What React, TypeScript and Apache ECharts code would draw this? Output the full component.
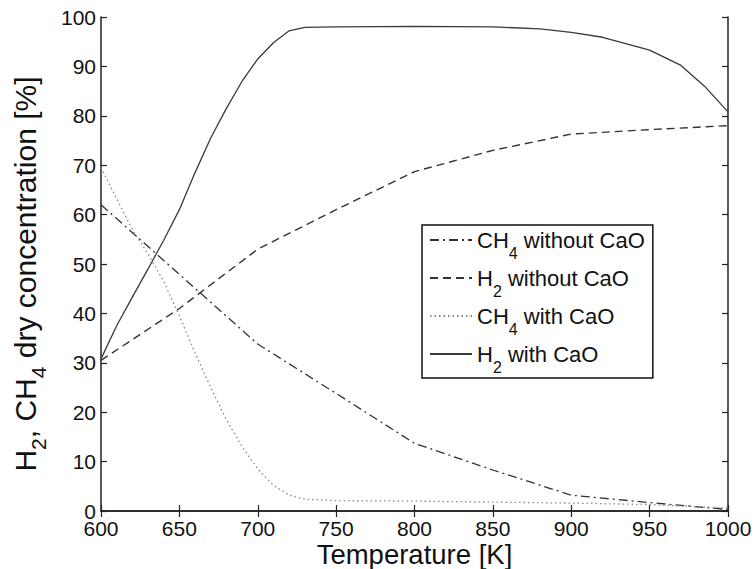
import React, { useEffect, useRef } from "react";
import * as echarts from "echarts";

const FONT = "Liberation Sans";

const xTicks = { min: 600, max: 1000, interval: 50 };
const yTicks = { min: 0, max: 100, interval: 10 };

const ch4WithoutT = [600, 650, 700, 750, 800, 850, 900, 950, 1000];
const ch4WithoutV = [62, 47.9, 33.8, 23.8, 13.7, 8.3, 3.2, 1.7, 0.3];

const h2WithoutT = [600, 650, 700, 750, 800, 850, 900, 950, 1000];
const h2WithoutV = [30.5, 41, 53, 61, 68.7, 73, 76.3, 77.2, 78];

const ch4WithT = [600, 610, 620, 630, 640, 650, 660, 670, 680, 690, 700, 710, 720, 730, 750, 800, 850, 900, 950, 1000];
const ch4WithV = [69.5, 63.2, 57, 52, 46.5, 39.5, 32, 25, 18.5, 13, 8.5, 5.2, 3.2, 2.4, 2.1, 2.0, 1.8, 1.6, 1.3, 0.6];

const h2WithT = [600, 610, 620, 630, 640, 650, 660, 670, 680, 690, 700, 710, 720, 730, 750, 800, 850, 880, 900, 920, 950, 970, 985, 1000];
const h2WithV = [30.8, 37.5, 43.3, 49, 54.8, 61, 68.5, 75.5, 81.5, 87, 91.5, 94.8, 97.2, 97.9, 98, 98.1, 98, 97.6, 96.9, 95.9, 93.3, 90.2, 86, 80.8];

const seriesNames = ["CH4 without CaO", "H2 without CaO", "CH4 with CaO", "H2 with CaO"];
const legendRich: Record<string, string> = {
  "CH4 without CaO": "{a|CH}{s|4}{a| without CaO}",
  "H2 without CaO": "{a|H}{s|2}{a| without CaO}",
  "CH4 with CaO": "{a|CH}{s|4}{a| with CaO}",
  "H2 with CaO": "{a|H}{s|2}{a| with CaO}",
};
const yTitle = "{a|H}{s|2}{a|, CH}{s|4}{a| dry concentration [%]}";
const xTitle = "Temperature [K]";

const zip = (t: number[], v: number[]) => t.map((x, i) => [x, v[i]]);

export default function App() {
  const ref = useRef<HTMLDivElement>(null);
  useEffect(() => {
    if (!ref.current) return;
    const chart = echarts.init(ref.current, undefined, { renderer: "svg", width: 755, height: 569 });
    const axisLine = { show: true, lineStyle: { color: "#222", width: 1.5 } };
    const tick = { show: true, inside: true, length: 6, lineStyle: { color: "#222", width: 1.2 } };
    const richMain = (size: number, subSize: number, pad: number) => ({
      a: { fontSize: size, fontFamily: FONT, color: "#111", lineHeight: size, verticalAlign: "top" },
      s: { fontSize: subSize, fontFamily: FONT, color: "#111", lineHeight: subSize, verticalAlign: "top", padding: [pad, 0, 0, 0] },
    });
    const mkSeries = (name: string, data: number[][], type: any, color: string, width: number) => ({
      name,
      type: "line",
      data,
      symbol: "none",
      showSymbol: false,
      lineStyle: { color, width, type },
      itemStyle: { color },
      z: 2,
    });
    chart.setOption({
      animation: false,
      backgroundColor: "#fff",
      grid: { left: 101, top: 17, right: 27, bottom: 58, containLabel: false, outerBoundsMode: "none" },
      xAxis: [
        {
          type: "value",
          ...xTicks,
          position: "bottom",
          axisLine,
          axisTick: tick,
          splitLine: { show: false },
          axisLabel: { fontSize: 21, lineHeight: 18, fontFamily: FONT, color: "#111", margin: 8, formatter: (v: number) => String(v) },
          name: xTitle,
          nameLocation: "middle",
          nameGap: 30,
          nameMoveOverlap: false,
          nameTextStyle: { fontSize: 27.5, lineHeight: 26, fontFamily: FONT, color: "#111" },
        },
        {
          type: "value",
          ...xTicks,
          position: "top",
          axisLine,
          axisTick: tick,
          splitLine: { show: false },
          axisLabel: { show: false },
        },
      ],
      yAxis: [
        {
          type: "value",
          ...yTicks,
          position: "left",
          axisLine,
          axisTick: tick,
          splitLine: { show: false },
          axisLabel: { fontSize: 21, lineHeight: 18, fontFamily: FONT, color: "#111", margin: 5 },
          name: yTitle,
          nameLocation: "middle",
          nameGap: 61,
          nameMoveOverlap: false,
          nameRotate: 90,
          nameTextStyle: { rich: richMain(30, 21, 18), padding: [0, 20, 0, 0] },
        },
        {
          type: "value",
          ...yTicks,
          position: "right",
          axisLine,
          axisTick: tick,
          splitLine: { show: false },
          axisLabel: { show: false },
        },
      ],
      legend: {
        data: seriesNames,
        orient: "vertical",
        left: 422,
        top: 225,
        itemWidth: 42,
        itemHeight: 14,
        itemGap: 6,
        padding: [4, 8, 3, 7],
        borderColor: "#111",
        borderWidth: 1.5,
        backgroundColor: "#fff",
        itemStyle: { opacity: 0, color: "transparent", borderWidth: 0 },
        formatter: (n: string) => legendRich[n] || n,
        textStyle: { rich: richMain(22, 16, 16) },
        z: 5,
      },
      series: [
        mkSeries(seriesNames[0], zip(ch4WithoutT, ch4WithoutV), [9, 4, 2, 4], "#333", 1.3),
        mkSeries(seriesNames[1], zip(h2WithoutT, h2WithoutV), [8, 5], "#333", 1.4),
        mkSeries(seriesNames[2], zip(ch4WithT, ch4WithV), [1.5, 3], "#888", 1.3),
        mkSeries(seriesNames[3], zip(h2WithT, h2WithV), "solid", "#3a3a3a", 1.3),
      ],
    });
    return () => chart.dispose();
  }, []);
  return <div ref={ref} style={{ position: "absolute", left: 0, top: 0, width: 755, height: 569 }} />;
}
